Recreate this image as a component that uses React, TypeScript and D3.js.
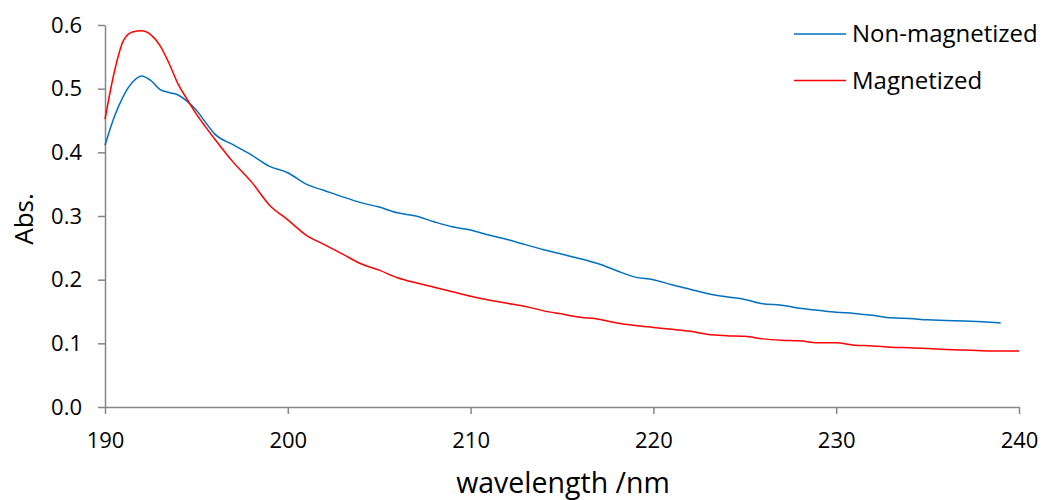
import React, { useEffect, useRef } from "react";
import * as d3 from "d3";

// wavelength (nm) and absorbance readings for each series
const blueWave = [190, 190.5, 191, 191.5, 192, 192.5, 193, 193.5, 194, 194.5, 195, 195.5, 196, 197, 198, 199, 200, 201, 202, 203, 204, 205, 206, 207, 208, 209, 210, 211, 212, 213, 214, 215, 216, 217, 218, 219, 220, 221, 222, 223, 224, 225, 226, 227, 228, 229, 230, 231, 232, 233, 234, 235, 236, 237, 238, 239];
const blueAbs = [0.411, 0.455, 0.488, 0.51, 0.52, 0.513, 0.499, 0.494, 0.49, 0.48, 0.466, 0.447, 0.429, 0.412, 0.396, 0.378, 0.368, 0.35, 0.34, 0.33, 0.321, 0.314, 0.305, 0.3, 0.291, 0.283, 0.278, 0.27, 0.263, 0.255, 0.247, 0.24, 0.233, 0.225, 0.214, 0.204, 0.2, 0.192, 0.185, 0.178, 0.173, 0.169, 0.162, 0.16, 0.155, 0.152, 0.149, 0.147, 0.144, 0.14, 0.139, 0.137, 0.136, 0.135, 0.134, 0.132];

const redWave = [190, 190.5, 191, 191.5, 192, 192.5, 193, 193.5, 194, 194.5, 195, 195.5, 196, 197, 198, 199, 200, 201, 202, 203, 204, 205, 206, 207, 208, 209, 210, 211, 212, 213, 214, 215, 216, 217, 218, 219, 220, 221, 222, 223, 224, 225, 226, 227, 228, 229, 230, 231, 232, 233, 234, 235, 236, 237, 238, 239, 240];
const redAbs = [0.452, 0.525, 0.575, 0.589, 0.591, 0.585, 0.568, 0.54, 0.507, 0.483, 0.46, 0.44, 0.421, 0.385, 0.354, 0.317, 0.294, 0.27, 0.255, 0.24, 0.225, 0.215, 0.203, 0.195, 0.188, 0.181, 0.174, 0.168, 0.163, 0.158, 0.151, 0.146, 0.141, 0.138, 0.132, 0.128, 0.125, 0.122, 0.119, 0.114, 0.112, 0.111, 0.107, 0.105, 0.104, 0.101, 0.101, 0.097, 0.096, 0.094, 0.093, 0.092, 0.0905, 0.0895, 0.0885, 0.088, 0.088];

const xTicks = [190, 200, 210, 220, 230, 240];
const yTicks = [0, 0.1, 0.2, 0.3, 0.4, 0.5, 0.6];
const seriesNames = ["Non-magnetized", "Magnetized"];
const seriesColors = ["#0070C0", "#FF0000"];

const W = 1041;
const H = 500;
const FONT = "'Open Sans', sans-serif";

const App = () => {
  const svgRef = useRef<SVGSVGElement>(null);

  useEffect(() => {
    const svg = d3.select(svgRef.current);
    svg.selectAll("*").remove();

    const x = d3.scaleLinear().domain([190, 240]).range([105, 1019]);
    const y = d3.scaleLinear().domain([0, 0.6]).range([407, 25]);

    const axisColor = "#868686";

    // y axis
    const yAxis = svg
      .append("g")
      .attr("transform", `translate(${x(190)},0)`)
      .call(d3.axisLeft(y).tickValues(yTicks).tickSize(7).tickSizeOuter(0).tickFormat(d3.format(".1f")));
    yAxis.select(".domain").attr("stroke", axisColor).attr("stroke-width", 1.5);
    yAxis.selectAll(".tick line").attr("stroke", axisColor).attr("stroke-width", 1.5);
    yAxis
      .selectAll(".tick text")
      .attr("font-family", FONT)
      .attr("font-size", 22)
      .attr("fill", "#000")
      .attr("x", -23);

    // x axis
    const xAxis = svg
      .append("g")
      .attr("transform", `translate(0,${y(0)})`)
      .call(d3.axisBottom(x).tickValues(xTicks).tickSize(7).tickSizeOuter(0));
    xAxis.select(".domain").attr("stroke", axisColor).attr("stroke-width", 1.5);
    xAxis.selectAll(".tick line").attr("stroke", axisColor).attr("stroke-width", 1.5);
    xAxis
      .selectAll(".tick text")
      .attr("font-family", FONT)
      .attr("font-size", 22)
      .attr("fill", "#000")
      .attr("dy", null)
      .attr("y", 41);

    const line = d3
      .line<[number, number]>()
      .x((d) => x(d[0]))
      .y((d) => y(d[1]))
      .curve(d3.curveMonotoneX);

    const series = [
      blueWave.map((w, i) => [w, blueAbs[i]] as [number, number]),
      redWave.map((w, i) => [w, redAbs[i]] as [number, number]),
    ];

    series.forEach((s, i) => {
      svg
        .append("path")
        .attr("d", line(s))
        .attr("fill", "none")
        .attr("stroke", seriesColors[i])
        .attr("stroke-width", 1.5);
    });

    // legend
    seriesNames.forEach((name, i) => {
      const ly = 34 + i * 46.5;
      svg
        .append("line")
        .attr("x1", 794)
        .attr("x2", 846)
        .attr("y1", ly)
        .attr("y2", ly)
        .attr("stroke", seriesColors[i])
        .attr("stroke-width", 1.5);
      svg
        .append("text")
        .attr("x", 852)
        .attr("y", ly + 8)
        .attr("font-family", FONT)
        .attr("font-size", 24)
        .attr("fill", "#000")
        .text(name);
    });

    // axis titles
    svg
      .append("text")
      .attr("x", 563)
      .attr("y", 493)
      .attr("text-anchor", "middle")
      .attr("font-family", FONT)
      .attr("font-size", 28.5)
      .attr("fill", "#000")
      .text("wavelength /nm");

    svg
      .append("text")
      .attr("transform", "translate(33,219) rotate(-90)")
      .attr("text-anchor", "middle")
      .attr("font-family", FONT)
      .attr("font-size", 26)
      .attr("fill", "#000")
      .text("Abs.");
  }, []);

  return (
    <svg
      ref={svgRef}
      width={W}
      height={H}
      style={{ position: "absolute", left: 0, top: 0, background: "#fff" }}
    />
  );
};

export default App;
